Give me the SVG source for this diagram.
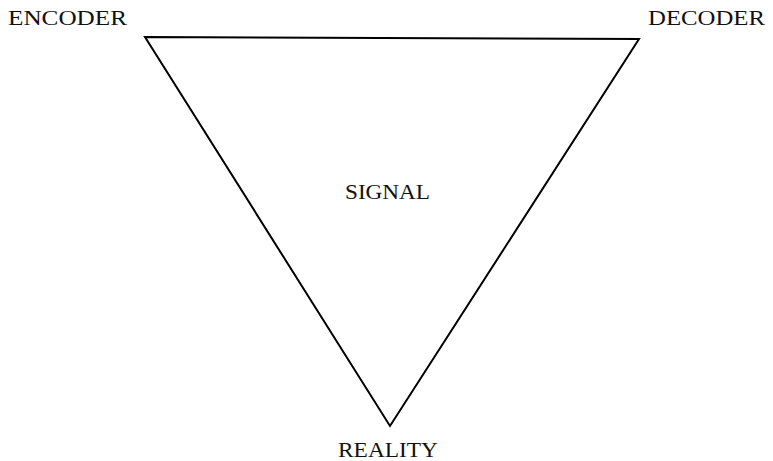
<svg xmlns="http://www.w3.org/2000/svg" width="773" height="461" viewBox="0 0 773 461">
<style>
.lbl{font-family:"Liberation Serif","DejaVu Serif",serif;font-size:22px;fill:#111;}
.edge{fill:none;stroke:#000;stroke-width:2;stroke-linejoin:miter;}
</style>
<rect width="773" height="461" fill="#fff"/>
<g id="connectors">
<polygon class="edge" points="145,37 639,39 390,426"/>
</g>
<g id="encoder"><text class="lbl" x="8" y="25" textLength="119" lengthAdjust="spacingAndGlyphs">ENCODER</text></g>
<g id="decoder"><text class="lbl" x="648" y="25" textLength="117" lengthAdjust="spacingAndGlyphs">DECODER</text></g>
<g id="signal"><text class="lbl" x="345" y="199" textLength="85" lengthAdjust="spacingAndGlyphs">SIGNAL</text></g>
<g id="reality"><text class="lbl" x="338" y="457" textLength="100" lengthAdjust="spacingAndGlyphs">REALITY</text></g>
</svg>
